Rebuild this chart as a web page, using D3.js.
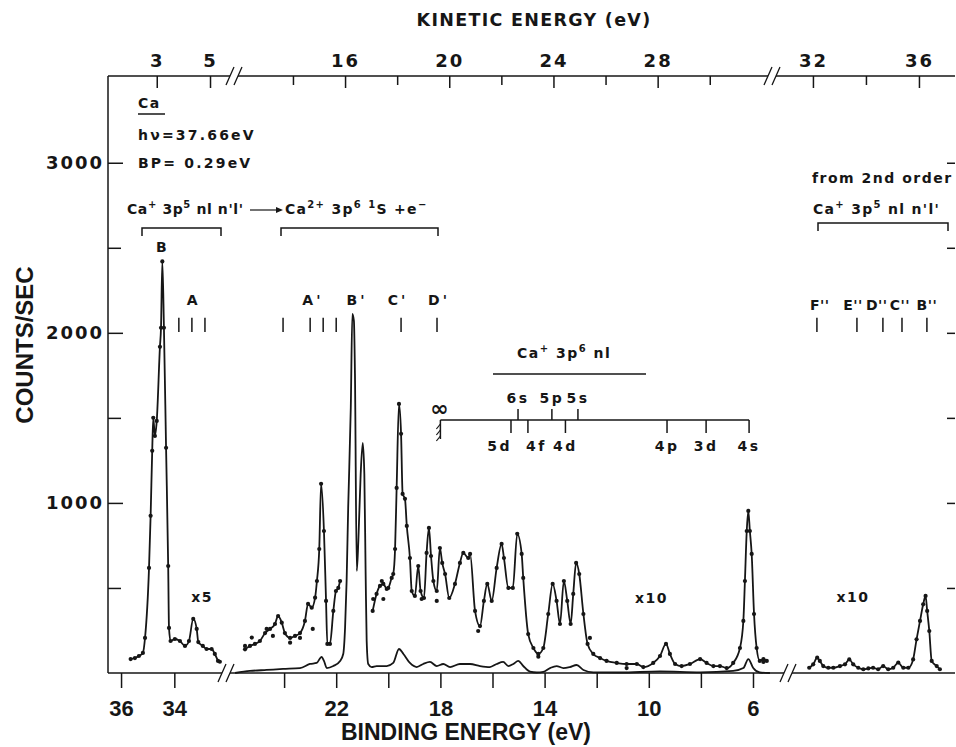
<!DOCTYPE html>
<html lang="en">
<head>
<meta charset="UTF-8">
<title>Ca photoelectron spectrum, hv = 37.66 eV</title>
<script src="https://d3js.org/d3.v7.min.js"></script>
<style>
  body { margin: 0; background: #fff; }
  svg text { font-family: "DejaVu Sans", sans-serif; font-weight: bold; fill: #161616; white-space: pre; }
  .num { font-size: 18px; letter-spacing: 2px; }
  .ann { font-size: 14px; letter-spacing: 1.5px; }
  .title { font-family: "Liberation Sans", Arial, sans-serif; font-size: 23px; }
  .curve { fill: none; stroke: #161616; stroke-width: 1.8; }
  .axis path, .axis line { stroke: #161616; stroke-width: 1.5; }
</style>
</head>
<body>
<script>
const HV = 37.66; // photon energy (eV)

// left panel, x5 curve: [binding energy eV, counts/s]
const bandX5 = [
  [35.64,82],[35.48,88],[35.33,100],[35.18,118],[35.10,206],[34.95,618],[34.89,924],[34.83,1306],
  [34.79,1500],[34.73,1394],[34.66,1482],[34.54,1918],[34.50,2030],[34.45,2420],[34.39,2030],
  [34.31,1324],[34.23,629],[34.20,265],[34.14,188],[33.98,200],[33.79,188],[33.60,159],[33.45,188],
  [33.29,318],[33.16,259],[33.10,182],[32.93,159],[32.79,141],[32.60,141],[32.48,112],[32.36,71]
];

// centre panel, x1 curve
const mainX1 = [
  [25.88,0],[25.31,12],[24.67,18],[24.04,24],[23.39,29],[23.01,53],[22.75,59],[22.56,95],[22.47,71],
  [22.36,29],[22.11,41],[21.85,71],[21.73,112],[21.66,265],[21.60,541],[21.54,971],[21.44,1559],
  [21.38,2112],[21.32,2071],[21.28,1759],[21.21,600],[21.15,776],[21.06,1171],[20.98,1353],
  [20.92,1171],[20.87,582],[20.83,188],[20.77,53],[20.64,35],[20.45,41],[20.06,41],[19.81,59],
  [19.59,141],[19.42,112],[19.17,59],[18.91,35],[18.66,53],[18.40,65],[18.14,41],[17.89,53],
  [17.63,35],[17.25,53],[16.86,53],[16.48,41],[16.10,35],[15.84,53],[15.59,65],[15.39,41],
  [15.20,53],[15.01,71],[14.82,41],[14.56,8],[14.30,3],[14.05,6],[13.79,29],[13.54,41],[13.28,29],
  [13.03,35],[12.77,47],[12.51,18],[12.13,4],[11.10,3],[9.57,9],[8.03,4],[6.76,12],[6.37,29],
  [6.18,82],[5.99,29],[5.74,3],[5.35,0]
];

// centre panel, x10 curve (two pieces, hidden under the big x1 peaks)
const mainX10a = [
  [25.50,139],[25.31,159],[25.12,171],[24.93,188],[24.73,235],[24.54,259],[24.35,288],[24.23,335],
  [24.09,296],[23.97,235],[23.77,206],[23.58,218],[23.39,235],[23.20,306],[23.08,406],[22.94,384],
  [22.81,443],[22.74,541],[22.65,729],[22.58,1112],[22.47,835],[22.39,424],[22.34,171],[22.24,171],
  [22.11,365],[22.01,482],[21.92,500],[21.85,541]
];
const mainX10b = [
  [20.60,365],[20.45,465],[20.32,512],[20.19,524],[20.06,494],[20.00,500],[19.87,559],[19.81,582],
  [19.74,729],[19.68,1088],[19.59,1582],[19.51,1406],[19.45,1053],[19.36,1024],[19.29,865],
  [19.17,676],[19.10,482],[18.98,453],[18.85,629],[18.76,482],[18.63,441],[18.53,706],[18.44,853],
  [18.36,688],[18.27,541],[18.14,482],[18.02,735],[17.93,647],[17.82,582],[17.66,441],[17.44,524],
  [17.25,647],[17.12,706],[16.93,676],[16.86,700],[16.67,365],[16.48,276],[16.33,424],[16.20,524],
  [16.03,424],[15.84,618],[15.65,759],[15.56,676],[15.39,500],[15.22,500],[15.05,818],[14.88,700],
  [14.82,559],[14.63,229],[14.43,147],[14.24,112],[14.05,147],[13.86,347],[13.69,524],[13.54,424],
  [13.41,288],[13.26,541],[13.13,424],[13.00,288],[12.90,465],[12.79,647],[12.67,582],[12.51,347],
  [12.35,171],[12.13,112],[11.87,88],[11.62,71],[11.23,59],[10.85,53],[10.46,53],[10.21,35],
  [9.83,59],[9.57,100],[9.34,171],[9.19,112],[8.99,53],[8.74,41],[8.42,53],[8.03,82],[7.78,59],
  [7.52,41],[7.27,41],[7.01,29],[6.76,59],[6.50,147],[6.37,306],[6.31,541],[6.24,835],[6.18,953],
  [6.12,835],[6.05,700],[5.96,347],[5.86,147],[5.74,71],[5.60,82],[5.47,71]
];

// right panel, x10, second order: [kinetic energy eV, counts/s]
const secondX10 = [
  [31.86,31],[32.01,51],[32.16,90],[32.26,71],[32.39,41],[32.58,31],[32.77,31],[33.02,41],[33.21,51],
  [33.37,80],[33.52,51],[33.71,31],[33.90,22],[34.09,27],[34.27,31],[34.46,22],[34.65,41],[34.84,22],
  [35.03,31],[35.22,61],[35.41,31],[35.60,31],[35.78,80],[35.91,198],[36.04,306],[36.16,404],
  [36.25,453],[36.31,365],[36.39,247],[36.48,71],[36.67,41],[36.79,22]
];

// loose data points off the drawn curves
const strayLeft = [[32.29,66]];
const strayMain = [[25.50,159],[25.24,208],[24.67,259],[24.43,218],[23.77,178],[23.39,206],[22.90,259],
  [20.58,435],[20.25,541],[20.19,435],[18.72,435],[18.14,424],[16.55,247],[14.24,96],[12.26,206],
  [10.85,29],[5.60,65]];

// peak assignments
const markA = [33.83, 33.34, 32.85];
const marksMain = [24.04, 23.00, 22.50, 22.00, 19.51, 18.13];
const namesMain = [["A'",22.97],["B'",21.28],["C'",19.70],["D'",18.13]];
const marksSecond = [32.15, 33.66, 34.64, 35.36, 36.30];
const namesSecond = [["F''",32.26],["E''",33.51],["D''",34.41],["C''",35.28],["B''",36.30]];

// Ca+ 3p6 nl levels (binding energy)
const seriesLimit = 18.0;
const levelsUp = [["6s",15.02],["5p",13.72],["5s",12.72]];
const levelsDown = [["5d",15.29],["4f",14.64],["4d",13.20],["4p",9.30],["3d",7.80],["4s",6.15]];

// axis ticks
const keMajor1 = [3, 5], keMajor2 = [16, 20, 24, 28], keMinor2 = [14, 18, 22, 26, 30];
const keMajor3 = [32, 36], keMinor3 = [34];
const beTicks1 = [36, 34];
const beTicks2 = [24, 22, 20, 18, 16, 14, 12, 10, 8, 6];
const beLabels2 = [22, 18, 14, 10, 6];
const countMajor = [1000, 2000, 3000], countMinor = [500, 1500, 2500];

const W = 956, H = 747;
const svg = d3.select("body").append("svg").attr("width", W).attr("height", H);

// three broken x segments
const x1 = d3.scaleLinear().domain([36.49, 32.21]).range([108, 222]);   // BE
const x2 = d3.scaleLinear().domain([26.0, 5.04]).range([232, 778]);     // BE
const x3 = d3.scaleLinear().domain([31.21, 37.36]).range([792, 955]);   // KE (2nd order)
const k1 = d3.scaleLinear().domain(x1.domain().map(b => HV - b)).range(x1.range());
const k2 = d3.scaleLinear().domain(x2.domain().map(b => HV - b)).range(x2.range());
const y = d3.scaleLinear().domain([0, 3510]).range([673, 76]);
const fmt = d3.format("d");

// ---- axes ----
function axisG(gen, tx, ty) {
  const g = svg.append("g").attr("class", "axis").attr("transform", `translate(${tx},${ty})`).call(gen);
  g.select(".domain").remove();
  g.selectAll("text").attr("font-size", null).attr("font-family", null);
  return g;
}
const yTop = y.range()[1], yBot = y.range()[0];

// top: kinetic energy, ticks pointing in
[[k1, keMajor1, []], [k2, keMajor2, keMinor2], [x3, keMajor3, keMinor3]].forEach(([s, maj, min]) => {
  axisG(d3.axisTop(s).tickValues(maj).tickSize(-12).tickPadding(9).tickFormat(fmt), 0, yTop)
    .selectAll("text").attr("class", "num");
  if (min.length) axisG(d3.axisTop(s).tickValues(min).tickSize(-9).tickFormat(""), 0, yTop);
});

// bottom: binding energy, ticks pointing out
[axisG(d3.axisBottom(x1).tickValues(beTicks1).tickSize(15).tickPadding(12).tickFormat(fmt), 0, yBot),
 axisG(d3.axisBottom(x2).tickValues(beTicks2).tickSize(15).tickPadding(12)
   .tickFormat(d => beLabels2.includes(d) ? fmt(d) : ""), 0, yBot)]
  .forEach(g => g.selectAll("text").attr("class", "title").style("font-size", "22px"));

// left counts axis
axisG(d3.axisLeft(y).tickValues(countMajor).tickSize(-15).tickPadding(4).tickFormat(fmt), 108, 0)
  .selectAll("text").attr("class", "num");
axisG(d3.axisLeft(y).tickValues(countMinor).tickSize(-13).tickFormat(""), 108, 0);
axisG(d3.axisRight(y).tickValues(countMinor.concat(countMajor)).tickSize(-8).tickFormat(""), W - 1, 0);

// axis lines with breaks
const frame = svg.append("g").attr("stroke", "#161616").attr("stroke-width", 1.5).attr("fill", "none");
frame.append("line").attr("x1", 108).attr("x2", 108).attr("y1", yTop).attr("y2", yBot);
function brokenLine(yy, breaks) {
  let start = 108;
  breaks.forEach(b => {
    frame.append("line").attr("x1", start).attr("x2", b + 4).attr("y1", yy).attr("y2", yy);
    frame.append("path").attr("d", `M${b},${yy + 9}L${b + 8},${yy - 9}M${b + 8},${yy + 9}L${b + 16},${yy - 9}`)
      .attr("stroke-width", 1.3);
    start = b + 12;
  });
  frame.append("line").attr("x1", start).attr("x2", W - 1).attr("y1", yy).attr("y2", yy);
}
brokenLine(yTop, [226, 764]);
brokenLine(yBot, [218, 780]);

// ---- spectra ----
const plot = svg.append("g");
function scatter(data, sx) {
  plot.append("g").selectAll("circle").data(data).join("circle")
    .attr("cx", d => sx(d[0])).attr("cy", d => y(d[1])).attr("r", 2.1).attr("fill", "#161616");
}
function curve(data, sx, dots) {
  const line = d3.line().x(d => sx(d[0])).y(d => y(d[1])).curve(d3.curveMonotoneX);
  plot.append("path").attr("class", "curve").attr("d", line(data));
  if (dots) scatter(data, sx);
}
curve(bandX5, x1, true);
curve(mainX1, x2, false);
curve(mainX10a, x2, true);
curve(mainX10b, x2, true);
curve(secondX10, x3, true);
scatter(strayLeft, x1);
scatter(strayMain, x2);

// ---- annotations ----
const ann = svg.append("g");
const sp = (sel, v) => sel.style("letter-spacing", v + "px");
function rich(x, yy, parts) {
  const t = ann.append("text").attr("x", x).attr("y", yy).attr("class", "ann");
  let up = false;
  parts.forEach(p => {
    const sup = Array.isArray(p), s = sup ? p[0] : p;
    const ts = t.append("tspan").text(s);
    if (sup) { ts.attr("font-size", 10); if (!up) { ts.attr("dy", -6); up = true; } }
    else if (up) { ts.attr("dy", 6); up = false; }
  });
  return t;
}
const mark = (x, y0, y1) => ann.append("line").attr("x1", x).attr("x2", x).attr("y1", y0).attr("y2", y1)
  .attr("stroke", "#161616").attr("stroke-width", 1.5);
const label = (x, yy, s) => ann.append("text").attr("class", "ann").attr("x", x).attr("y", yy)
  .attr("dy", "0.35em").attr("text-anchor", "middle").text(s);

rich(138, 108, ["Ca"]);
ann.append("line").attr("x1", 138).attr("x2", 165).attr("y1", 114).attr("y2", 114).attr("stroke", "#161616").attr("stroke-width", 1.5);
sp(rich(138, 140, ["hν=37.66eV"]), 2.2);
sp(rich(138, 168, ["BP= 0.29eV"]), 2.2);

sp(rich(127, 214, ["Ca", ["+"], " 3p", ["5"], " nl n'l'"]), 0.6);
ann.append("path").attr("d", "M250,210H277").attr("stroke", "#161616").attr("stroke-width", 1.2);
ann.append("path").attr("d", "M283,210L276,207L276,213Z").attr("fill", "#161616");
sp(rich(285, 214, ["Ca", ["2+"], " 3p", ["6"], " ", ["1"], "S +e", ["−"]]), 1.3);
function bracket(a, b, yy) {
  ann.append("path").attr("d", `M${a},${yy + 8}V${yy}H${b}V${yy + 8}`).attr("fill", "none")
    .attr("stroke", "#161616").attr("stroke-width", 1.5);
}
bracket(142, 221, 228);
bracket(281, 438, 228);

rich(812, 183, ["from 2nd order"]);
sp(rich(813, 214, ["Ca", ["+"], " 3p", ["5"], " nl n'l'"]), 1.3);
bracket(818, 948, 223);

// peak markers
const rowLbl = 2190, tick0 = 2005, tick1 = 2088;
label(x1(34.46), y(2505), "B");
label(x1(33.30), y(rowLbl), "A");
markA.forEach(v => mark(x1(v), y(tick0), y(tick1)));
marksMain.forEach(v => mark(x2(v), y(tick0), y(tick1)));
namesMain.forEach(([n, v]) => sp(label(x2(v) + 2, y(rowLbl), n), 3));
marksSecond.forEach(v => mark(x3(v), y(tick0), y(tick1)));
namesSecond.forEach(([n, v]) => sp(label(x3(v), y(rowLbl - 25), n), 0.5));

// Ca+ 3p6 nl level ladder
rich(517, 358, ["Ca", ["+"], " 3p", ["6"], " nl"]);
ann.append("line").attr("x1", 493).attr("x2", 646).attr("y1", 374).attr("y2", 374).attr("stroke", "#161616").attr("stroke-width", 1.5);
const ly = 420;
ann.append("line").attr("x1", x2(seriesLimit)).attr("x2", x2(levelsDown[levelsDown.length - 1][1]))
  .attr("y1", ly).attr("y2", ly).attr("stroke", "#161616").attr("stroke-width", 1.5);
mark(x2(seriesLimit), ly, ly + 19);
[0, 1, 2].forEach(i => ann.append("line").attr("x1", x2(seriesLimit)).attr("x2", x2(seriesLimit) - 4)
  .attr("y1", ly + 4 + 6 * i).attr("y2", ly + 9 + 6 * i).attr("stroke", "#161616").attr("stroke-width", 1.2));
ann.append("text").attr("x", x2(seriesLimit) - 1).attr("y", ly - 12).attr("dy", "0.35em").attr("text-anchor", "middle")
  .style("font-size", "22px").text("∞");
levelsUp.forEach(([n, v]) => {
  mark(x2(v), ly, ly - 11);
  sp(ann.append("text").attr("class", "ann").attr("x", x2(v)).attr("y", ly - 17).attr("text-anchor", "middle").text(n), 2.5);
});
levelsDown.forEach(([n, v], i) => {
  mark(x2(v), ly, ly + 13);
  // the two close labels sit beside their ticks
  const anchor = i === 0 ? "end" : i === 1 ? "start" : "middle";
  sp(ann.append("text").attr("class", "ann").attr("x", x2(v) + (i === 0 ? 1 : i === 1 ? -2 : 0)).attr("y", ly + 31)
    .attr("text-anchor", anchor).text(n), 2.5);
});

// magnification labels
label(x1(32.96), y(447), "x5");
label(x2(9.9), y(441), "x10");
label(x3(33.51), y(447), "x10");

// axis titles
svg.append("text").attr("x", 534).attr("y", 26).attr("text-anchor", "middle")
  .style("font-size", "17.5px").style("letter-spacing", "1.3px").text("KINETIC ENERGY (eV)");
svg.append("text").attr("class", "title").attr("x", 466).attr("y", 740).attr("text-anchor", "middle").text("BINDING ENERGY (eV)");
svg.append("text").attr("class", "title").attr("transform", "translate(33,345) rotate(-90)").attr("text-anchor", "middle")
  .style("font-size", "24px").text("COUNTS/SEC");
</script>
</body>
</html>
